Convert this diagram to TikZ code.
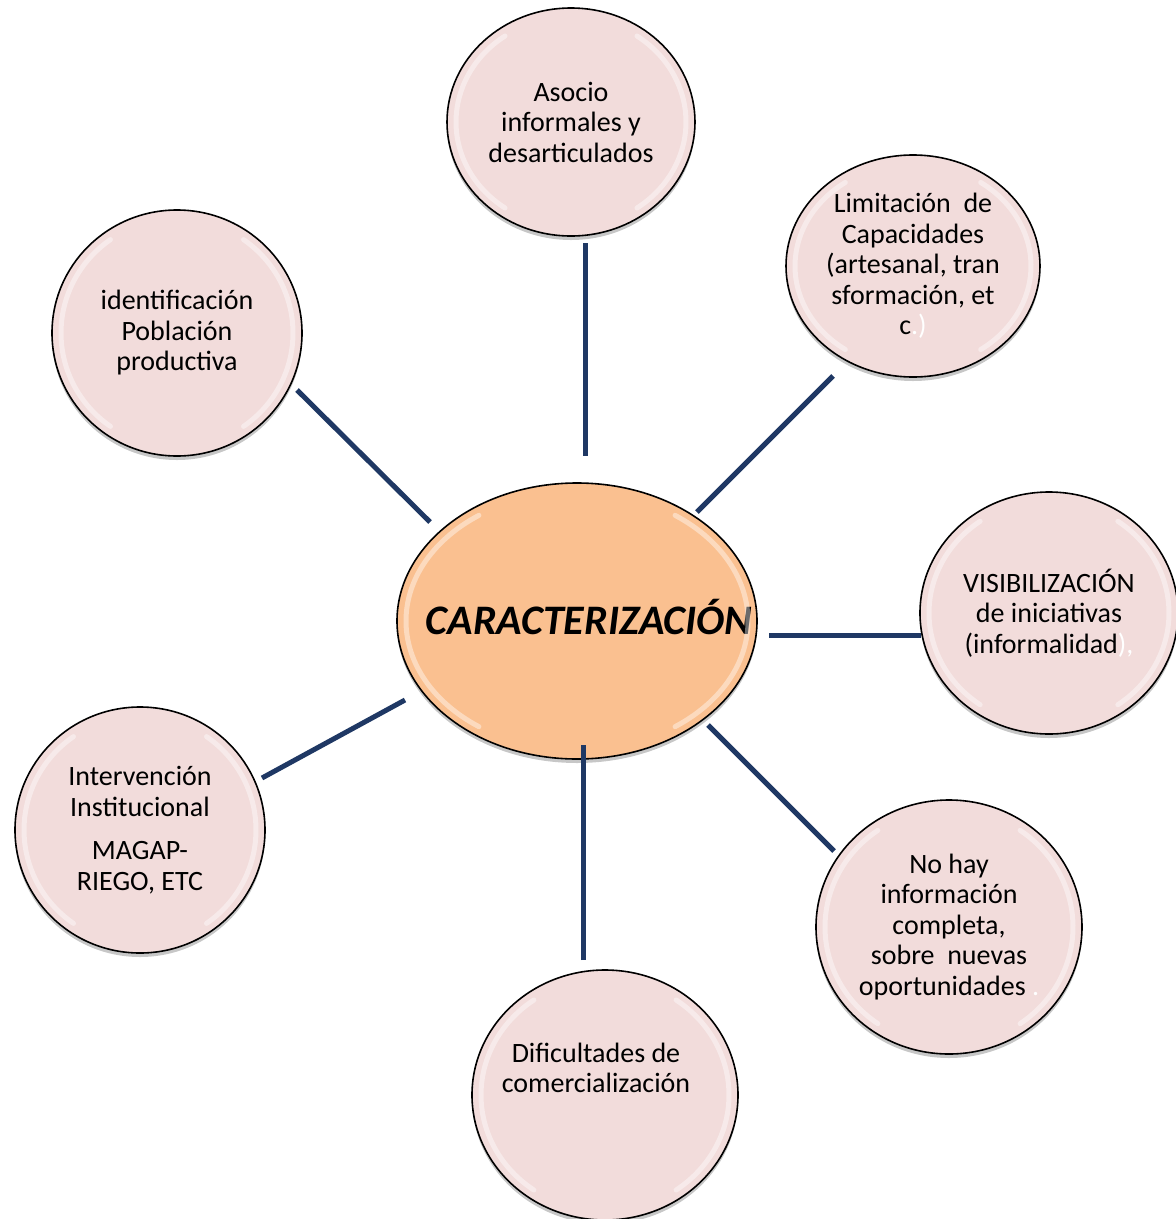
\documentclass[tikz,border=0pt]{standalone}
\usepackage{fontspec}
\setmainfont{Carlito}
\usetikzlibrary{shapes.geometric,shadows}

\definecolor{bubblefill}{RGB}{242,220,219}
\definecolor{corefill}{RGB}{250,192,144}
\definecolor{linkblue}{RGB}{31,56,100}

\tikzset{
  bubble/.style={ellipse, draw=black, line width=1.6pt, fill=bubblefill,
    inner sep=0pt, align=center, font=\fontsize{28}{30.5}\selectfont,
    drop shadow={shadow xshift=0pt, shadow yshift=-4pt, opacity=0.22, fill=black}},
  bubbletext/.style={inner sep=0pt, align=center, font=\fontsize{28}{30.5}\selectfont},
  core/.style={bubble, fill=corefill},
  coretext/.style={inner sep=0pt, font=\fontsize{42}{46}\selectfont\bfseries\itshape},
  link/.style={draw=linkblue, line width=5pt},
  gloss/.style={draw=white, line width=5pt, opacity=0.42, line cap=round},
}

% white highlight arcs just inside the rim of an ellipse node
\newcommand\rimgloss[3]{%
  \draw[gloss] (#1.center) ++(125:{#2-9} and {#3-9})
    arc[start angle=125, end angle=235, x radius=#2-9, y radius=#3-9];
  \draw[gloss] (#1.center) ++(-55:{#2-9} and {#3-9})
    arc[start angle=-55, end angle=55, x radius=#2-9, y radius=#3-9];
}

\begin{document}
\begin{tikzpicture}[x=1pt, y=-1pt]
\useasboundingbox (0,0) rectangle (1176,1219);

% outer ideas
\node[bubble, minimum width=248pt, minimum height=228pt] (asocio) at (571,122)
  {Asocio\\informales y\\desarticulados};
\node[bubble, minimum width=254pt, minimum height=222pt] (limit) at (913,266)
  {Limitación\ \ de\\Capacidades\\(artesanal, tran\\sformación, et\\c\textcolor{white}{.)}};
\node[bubble, minimum width=250pt, minimum height=246pt] (ident) at (177,333)
  {identificación\\Población\\productiva};
\node[bubble, minimum width=258pt, minimum height=242pt] (visib) at (1049,613)
  {VISIBILIZACIÓN\\de iniciativas\\(informalidad\textcolor{white}{),}};
\node[bubble, minimum width=250pt, minimum height=246pt] (interv) at (140,830)
  {Intervención\\Institucional\\[13pt]MAGAP-\\RIEGO, ETC};
\node[bubble, minimum width=266pt, minimum height=254pt] (nohay) at (949,927)
  {No hay\\información\\completa,\\sobre\ \ nuevas\\oportunidades \textcolor{white}{.}};
\node[bubble, minimum width=266pt, minimum height=250pt] (dific) at (605,1095) {};
\node[bubbletext] (dificlabel) at (596,1068) {Dificultades de\\comercialización};

% central idea
\node[core, minimum width=360pt, minimum height=276pt] (carac) at (577,621) {};
\node[coretext] (caractext) at (589,617) {CARACTERIZACIÓN};

\rimgloss{asocio}{124}{114}
\rimgloss{limit}{127}{111}
\rimgloss{ident}{125}{123}
\rimgloss{visib}{129}{121}
\rimgloss{interv}{125}{123}
\rimgloss{nohay}{133}{127}
\rimgloss{dific}{133}{125}
\rimgloss{carac}{180}{138}

% spokes
\coordinate (a1) at (585,243);  \coordinate (a2) at (585,456);
\coordinate (b1) at (833,376);  \coordinate (b2) at (697,512);
\coordinate (c1) at (297,390);  \coordinate (c2) at (430,522);
\coordinate (d1) at (921,635);  \coordinate (d2) at (769,635);
\coordinate (e1) at (262,778);  \coordinate (e2) at (405,700);
\coordinate (f1) at (834,851);  \coordinate (f2) at (708,725);
\coordinate (g1) at (583,960);  \coordinate (g2) at (583,745);

\draw[link] (a1) -- (a2);
\draw[link] (b1) -- (b2);
\draw[link] (c1) -- (c2);
\draw[link] (d1) -- (d2);
\draw[link] (e1) -- (e2);
\draw[link] (f1) -- (f2);
\draw[link] (g1) -- (g2);
\end{tikzpicture}
\end{document}
